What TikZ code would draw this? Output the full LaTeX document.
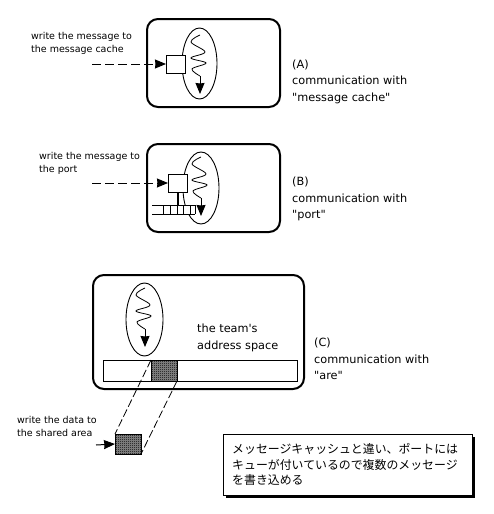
\documentclass[tikz,border=0pt]{standalone}
\usepackage{fontspec}
\newfontfamily\labelfont{DejaVu Sans}
\newfontfamily\cjkfont{Noto Sans CJK JP}
\usetikzlibrary{arrows.meta,patterns,shadows,shapes.geometric}

\pgfdeclarepatternformonly{fineweave}{\pgfpointorigin}{\pgfqpoint{2pt}{2pt}}{\pgfqpoint{2pt}{2pt}}{
  \pgfpathrectangle{\pgfpointorigin}{\pgfqpoint{1pt}{1pt}}
  \pgfpathrectangle{\pgfqpoint{1pt}{1pt}}{\pgfqpoint{1pt}{1pt}}
  \pgfusepath{fill}
}

\tikzset{
  teambox/.style={draw,line width=2pt,rounded corners=11pt,inner sep=0,outer sep=0},
  threadoval/.style={draw,fill=white,ellipse,line width=0.9pt,inner sep=0,outer sep=0},
  cachebox/.style={draw,fill=white,line width=1pt,inner sep=0,outer sep=0},
  sharedbox/.style={draw,fill=black!45,postaction={pattern=fineweave},line width=1pt,inner sep=0,outer sep=0},
  smalltext/.style={font=\labelfont\fontsize{9.5}{13}\selectfont,align=left,anchor=west,inner sep=0},
  captext/.style={font=\labelfont\fontsize{11.3}{16.5}\selectfont,align=left,anchor=west,inner sep=0},
  headarrow/.style={arrows=-{Stealth[inset=0.5pt,length=11pt,width=9pt]},line width=1pt},
  leader/.style={headarrow,dash pattern=on 9pt off 4pt},
  linkline/.style={line width=0.8pt,dash pattern=on 8pt off 3pt},
}

% thread: name, x, y of the first point
\newcommand{\threadwave}[3]{
  \draw [line width=0.8pt,shift={(#2,#3)}] plot [smooth,tension=0.6] coordinates {(0,0) (-9,7) (5,17) (-9,23) (6,28) (-8,34) (0,41)};
  \coordinate (wave#1) at (#2,#3+41);
  \coordinate (tip#1) at (#2,#3+59);
  \draw [headarrow] (wave#1) -- (tip#1);
}

\begin{document}
\begin{tikzpicture}[x=1pt,y=-1pt]

\useasboundingbox (0,0) rectangle (494,514);

% (A)
\node (teamA) [teambox,minimum width=133pt,minimum height=88pt] at (213.5,63) {};
\node (ovalA) [threadoval,minimum width=35pt,minimum height=71pt] at (199.5,63.5) {};
\node (cacheA) [cachebox,minimum width=19pt,minimum height=18pt] at (175.5,64) {};
\threadwave{A}{200}{35}
\coordinate (fromA) at (92,64);
\draw [leader] (fromA) -- (cacheA.west);
\node (writeA) [smalltext] at (31,43.5) {write the message to\\the message cache};
\node (capA) [captext] at (292,81.5) {(A)\\communication with\\"message cache"};

% (B)
\node (teamB) [teambox,minimum width=133pt,minimum height=88pt] at (213.5,188) {};
\node (ovalB) [threadoval,minimum width=36pt,minimum height=72pt] at (201,188) {};
\threadwave{B}{201}{157}
\node (cacheB) [cachebox,minimum width=19pt,minimum height=18pt] at (177.5,183) {};
\coordinate (queueB) at (178,205);
\fill [white] (152,205) rectangle (195,214);
\draw [line width=1pt] (195,205) -- (152,205) (152,214) -- (195,214);
\foreach \x in {163,170,177,183,190,195}
  \draw [line width=1pt] (\x,205) -- (\x,214);
\draw [line width=2pt] (cacheB.south -| queueB) -- (queueB);
\coordinate (fromB) at (92,183);
\draw [leader] (fromB) -- (cacheB.west);
\node (writeB) [smalltext] at (39,163.5) {write the message to\\the port};
\node (capB) [captext] at (292,199) {(B)\\communication with\\"port"};

% (C)
\node (teamC) [teambox,minimum width=211pt,minimum height=114pt] at (198.5,332) {};
\node (ovalC) [threadoval,minimum width=37pt,minimum height=73pt] at (144.5,319.5) {};
\threadwave{C}{145}{288}
\node (spaceC) [captext] at (197,338) {the team's\\address space};
\node (areaC) [cachebox,minimum width=194pt,minimum height=21pt] at (200,370.5) {};
\node (sharedC) [sharedbox,minimum width=26pt,minimum height=21pt] at (164,370.5) {};
\node (dataC) [sharedbox,minimum width=26pt,minimum height=20pt] at (128,444) {};
\draw [linkline] (sharedC.north west) -- (dataC.north west);
\draw [linkline] (sharedC.south east) -- (dataC.south east);
\coordinate (fromC) at (96,445);
\draw [headarrow] (fromC) -- (dataC.west);
\node (writeC) [smalltext] at (17,426) {write the data to\\the shared area};
\node (capC) [captext] at (314,359) {(C)\\communication with\\"are"};

% note
\node (note) [draw,fill=white,line width=1pt,inner sep=0,minimum width=249pt,minimum height=61pt,
  drop shadow={shadow xshift=2.5pt,shadow yshift=-2.5pt,fill=black,opacity=1}] at (347.5,464.5) {};
\node (noteText) [anchor=west,align=left,inner sep=0,font=\cjkfont\fontsize{11.9}{15.5}\selectfont] at (232,464.5)
  {メッセージキャッシュと違い、ポートには\\キューが付いているので複数のメッセージ\\を書き込める};

\end{tikzpicture}
\end{document}
